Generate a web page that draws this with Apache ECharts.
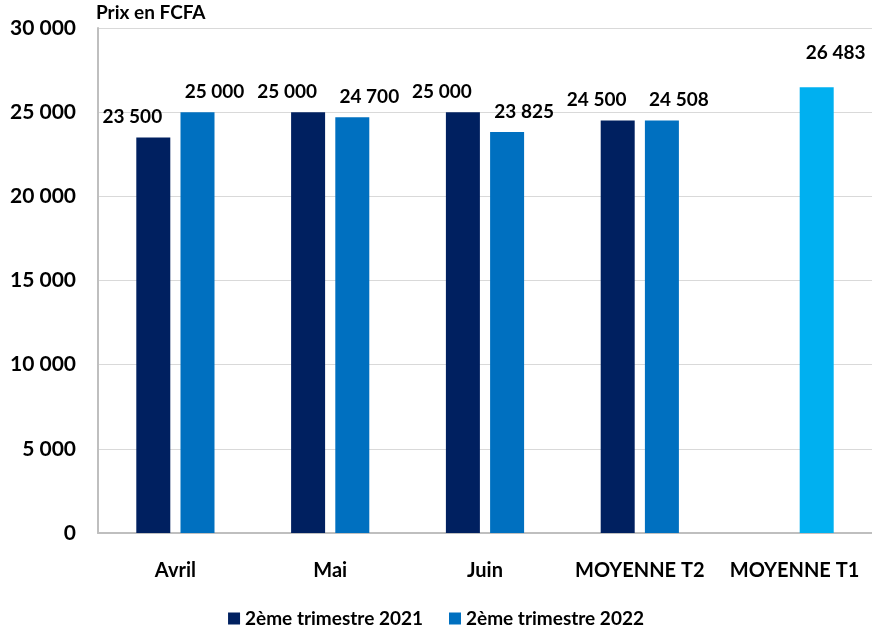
<!DOCTYPE html>
<html><head><meta charset="utf-8">
<script src="https://cdn.jsdelivr.net/npm/echarts@6/dist/echarts.min.js"></script>
<style>html,body{margin:0;padding:0;background:#fff}#c{width:872px;height:632px}</style>
</head><body><div id="c"></div>
<script>
const categories = ['Avril', 'Mai', 'Juin', 'MOYENNE T2', 'MOYENNE T1'];
const series2021 = [23500, 25000, 25000, 24500, null];
const series2022 = [25000, 24700, 23825, 24508, 26483];
const seriesNames = ['2ème trimestre 2021', '2ème trimestre 2022'];

const FONT = 'Lato';
function fmt(v) { return String(Math.round(v)).replace(/\B(?=(\d{3})+(?!\d))/g, ' '); }

const chart = echarts.init(document.getElementById('c'));
chart.setOption({
  animation: false,
  textStyle: { fontFamily: FONT },
  grid: { left: 98, right: 0, top: 28, bottom: 99 },
  legend: {
    bottom: -1, left: 'center', itemWidth: 12, itemHeight: 12, itemGap: 26,
    icon: 'rect',
    textStyle: { fontFamily: FONT, fontWeight: 'bold', fontSize: 19, color: '#000' },
    data: seriesNames
  },
  xAxis: {
    type: 'category', data: categories,
    axisLine: { show: true, lineStyle: { color: '#bfbfbf', width: 2 } },
    axisTick: { show: false },
    axisLabel: { interval: 0, fontFamily: FONT, fontWeight: 'bold', fontSize: 20, color: '#000', margin: 28 }
  },
  yAxis: {
    type: 'value', min: 0, max: 30000, interval: 5000,
    name: 'Prix en FCFA', nameLocation: 'end', nameGap: 6,
    nameTextStyle: { fontFamily: FONT, fontWeight: 'bold', fontSize: 19, color: '#000', align: 'left', padding: [0, 0, 0, -2] },
    axisLine: { show: true, lineStyle: { color: '#bfbfbf', width: 2 } },
    splitLine: { lineStyle: { color: '#d9d9d9', width: 1 } },
    axisLabel: { fontFamily: FONT, fontWeight: 'bold', fontSize: 21, color: '#000', margin: 22, formatter: fmt }
  },
  series: [
    {
      name: seriesNames[0], type: 'bar', data: series2021, barWidth: 34, barGap: '30%',
      itemStyle: { color: '#002060' },
      label: { show: true, position: 'top', distance: 11, offset: [-21, 0], fontFamily: FONT, fontWeight: 'bold', fontSize: 19, color: '#000', formatter: p => fmt(p.value) }
    },
    {
      name: seriesNames[1], type: 'bar', barWidth: 34,
      data: series2022.map((v, i) => i === 4
        ? { value: v, itemStyle: { color: '#00B0F0' }, label: { distance: 25, offset: [19, 0] } }
        : v),
      itemStyle: { color: '#0070C0' },
      label: { show: true, position: 'top', distance: 11, offset: [17, 0], fontFamily: FONT, fontWeight: 'bold', fontSize: 19, color: '#000', formatter: p => fmt(p.value) }
    }
  ]
});
</script></body></html>
